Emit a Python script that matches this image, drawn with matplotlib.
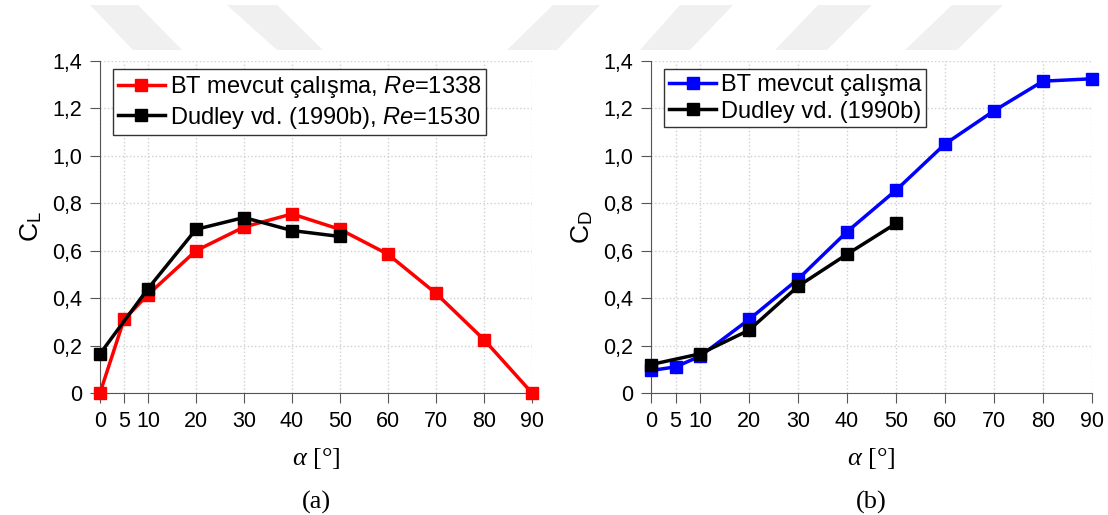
import matplotlib
matplotlib.use("Agg")
import matplotlib.pyplot as plt
from matplotlib.patches import Polygon

# Açı değerleri ve katsayılar
alfa_bt = [0, 5, 10, 20, 30, 40, 50, 60, 70, 80, 90]
cl_bt = [0.0, 0.31, 0.415, 0.60, 0.70, 0.755, 0.69, 0.585, 0.42, 0.225, 0.0]
cd_bt = [0.095, 0.11, 0.155, 0.31, 0.48, 0.68, 0.855, 1.05, 1.19, 1.315, 1.325]

alfa_dudley = [0, 10, 20, 30, 40, 50]
cl_dudley = [0.165, 0.44, 0.69, 0.74, 0.685, 0.66]
cd_dudley = [0.12, 0.165, 0.265, 0.45, 0.585, 0.715]

x_ticks = [0, 5, 10, 20, 30, 40, 50, 60, 70, 80, 90]
y_ticks = [0, 0.2, 0.4, 0.6, 0.8, 1.0, 1.2, 1.4]
y_tick_labels = ["0", "0,2", "0,4", "0,6", "0,8", "1,0", "1,2", "1,4"]

plt.rcParams["font.family"] = ["Liberation Sans", "DejaVu Sans"]
plt.rcParams["mathtext.fontset"] = "custom"
plt.rcParams["mathtext.it"] = "Liberation Serif:italic"
plt.rcParams["mathtext.sf"] = "Liberation Sans:italic"
plt.rcParams["mathtext.rm"] = "Liberation Sans"

fig = plt.figure(figsize=(11.08, 5.15), dpi=100)

# filigran
W, H = 1108, 515
filigran = [
    [(90, 5), (138, 5), (182, 50), (133, 50)],
    [(227, 5), (277, 5), (323, 50), (277, 50)],
    [(553, 5), (600, 5), (557, 50), (507, 50)],
    [(680, 5), (733, 5), (690, 50), (640, 50)],
    [(818, 5), (872, 5), (827, 50), (775, 50)],
    [(952, 5), (1003, 5), (957, 50), (905, 50)],
]
for p in filigran:
    fig.patches.append(Polygon([(x / W, 1 - y / H) for x, y in p], closed=True,
                               transform=fig.transFigure, facecolor="#f0f0f0",
                               edgecolor="none", zorder=0))

ax1 = fig.add_axes([100 / W, 1 - 393 / H, 432 / W, 332 / H])
ax2 = fig.add_axes([651 / W, 1 - 393 / H, 441 / W, 332 / H])


def duzenle(ax, ylabel, harf):
    ax.set_xlim(0, 90)
    ax.set_ylim(0, 1.4)
    ax.set_xticks(x_ticks)
    ax.set_xticklabels([str(t) for t in x_ticks], fontsize=15.5)
    ax.set_yticks(y_ticks)
    ax.set_yticklabels(y_tick_labels, fontsize=15.5)
    ax.spines["top"].set_visible(False)
    ax.spines["right"].set_visible(False)
    ax.spines["left"].set_color("#555555")
    ax.spines["bottom"].set_color("#555555")
    ax.grid(True, color="#d0d0d0", linestyle=":", linewidth=1)
    ax.tick_params(direction="out", length=7, color="#555555", pad=6)
    ax.set_axisbelow(True)
    ax.set_ylabel(ylabel, fontsize=19, labelpad=6)
    ax.set_xlabel(r"$\mathit{\alpha}$ [°]", fontsize=19, family="Liberation Serif", labelpad=10)
    ax.text(0.5, -0.295, harf, transform=ax.transAxes, ha="center", va="top",
            fontsize=19, family="Liberation Serif")


stil = dict(marker="s", markersize=9, linewidth=2.5, clip_on=False)

ax1.plot(alfa_bt, cl_bt, color="#ff0000", label=r"BT mevcut çalışma, $\mathsf{Re}$=1338", zorder=3, **stil)
ax1.plot(alfa_dudley, cl_dudley, color="black", label=r"Dudley vd. (1990b), $\mathsf{Re}$=1530", zorder=4, **stil)
duzenle(ax1, "C$_\\mathregular{L}$", "(a)")

ax2.plot(alfa_bt, cd_bt, color="#0000ff", label="BT mevcut çalışma", zorder=3, **stil)
ax2.plot(alfa_dudley, cd_dudley, color="black", label="Dudley vd. (1990b)", zorder=4, **stil)
duzenle(ax2, "C$_\\mathregular{D}$", "(b)")

for ax in (ax1, ax2):
    leg = ax.legend(loc="upper left", bbox_to_anchor=(0.03, 0.975), fontsize=17,
                    handlelength=2.0, handletextpad=0.2, borderpad=0.2,
                    labelspacing=0.2, fancybox=False, framealpha=1,
                    borderaxespad=0)
    leg.get_frame().set_edgecolor("#333333")
    leg.get_frame().set_linewidth(1)

fig.savefig("out.png", dpi=100, facecolor="white")
